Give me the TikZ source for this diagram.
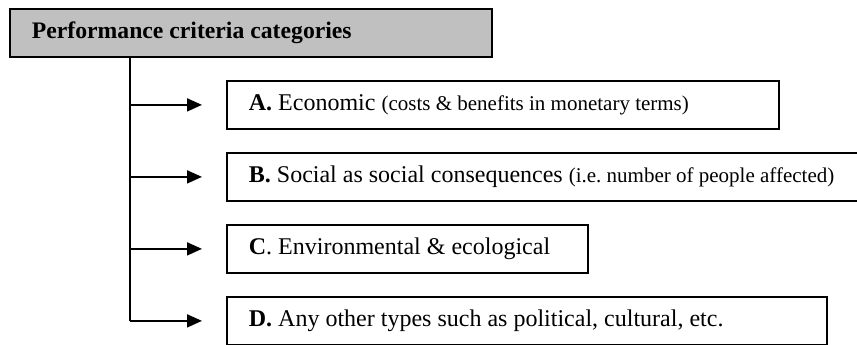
\documentclass[tikz,border=0pt]{standalone}
\usepackage{fontspec}
\setmainfont{Liberation Serif}
\usetikzlibrary{arrows.meta}
\definecolor{hdrgrey}{HTML}{C0C0C0}
\newcommand{\boxtext}[2]{\makebox[#1][l]{\hspace*{22pt}#2}}
\newcommand{\smallpar}[1]{{\fontsize{21}{25}\selectfont #1}}
\begin{document}
\begin{tikzpicture}[x=1pt,y=1pt,
  box/.style={draw=black, line width=1.8pt, anchor=north west, minimum height=48pt,
    inner xsep=0pt, inner ysep=0pt},
  maintext/.style={font=\fontsize{24}{28}\selectfont},
  arr/.style={line width=1.8pt, -{Triangle[length=15pt,width=13pt]}},
  trunkline/.style={line width=1.8pt}]
\useasboundingbox (0,0) rectangle (857,-345);
\node[box, fill=hdrgrey, font=\fontsize{23.7}{28}\selectfont\bfseries]
  (T) at (9,-8) {\boxtext{482pt}{Performance criteria categories}};
\node[box, maintext] (A) at (226,-80)
  {\boxtext{552pt}{\textbf{A.} Economic \smallpar{(costs \& benefits in monetary terms)}}};
\node[box, maintext] (B) at (226,-152)
  {\boxtext{644pt}{\textbf{B.} Social as social consequences \smallpar{(i.e.\ number of people affected)}}};
\node[box, maintext] (C) at (226,-224)
  {\boxtext{361pt}{\textbf{C}. Environmental \& ecological}};
\node[box, maintext] (D) at (226,-296)
  {\boxtext{600pt}{\textbf{D.} Any other types such as political, cultural, etc.}};
\coordinate (tt) at ([xshift=121pt]T.south west);
\draw[trunkline] (tt) -- (tt |- D.west);
\draw[arr] (tt |- A.west) -- ([xshift=-24pt]A.west);
\draw[arr] (tt |- B.west) -- ([xshift=-24pt]B.west);
\draw[arr] (tt |- C.west) -- ([xshift=-24pt]C.west);
\draw[arr] (tt |- D.west) -- ([xshift=-24pt]D.west);
\end{tikzpicture}
\end{document}
